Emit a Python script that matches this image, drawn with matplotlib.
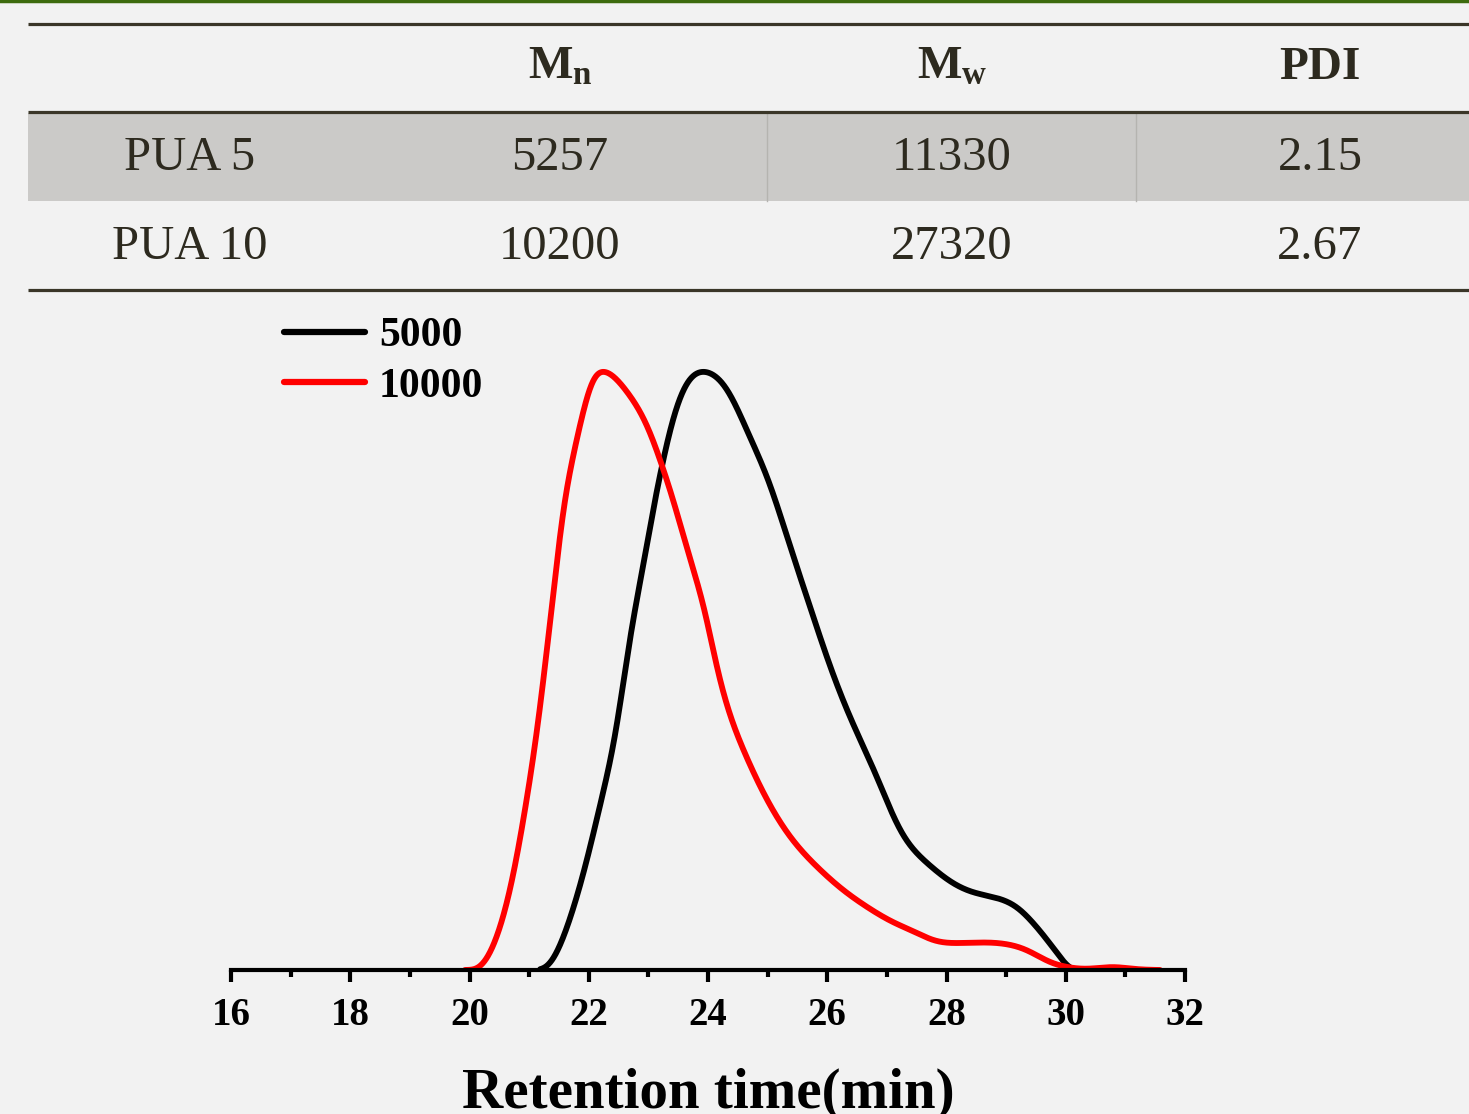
import numpy as np
import matplotlib
matplotlib.use("Agg")
import matplotlib.pyplot as plt
from matplotlib.patches import Rectangle

plt.rcParams['font.family'] = ['Liberation Serif', 'DejaVu Serif']
plt.rcParams['mathtext.fontset'] = 'custom'
plt.rcParams['mathtext.rm'] = 'Liberation Serif'
plt.rcParams['mathtext.bf'] = 'Liberation Serif:bold'

# table data
col_heads = ['', r'$\mathbf{M_n}$', r'$\mathbf{M_w}$', 'PDI']
row_names = ['PUA 5', 'PUA 10']
mn = ['5257', '10200']
mw = ['11330', '27320']
pdi = ['2.15', '2.67']

# GPC traces (retention time, normalised signal)
t_5000 = [21.18, 21.30, 21.64, 21.97, 22.24, 22.47, 22.66, 22.91, 23.08, 23.25,
          23.41, 23.65, 23.95, 24.32, 24.70, 24.99, 25.38, 25.71, 26.01, 26.38,
          26.83, 27.22, 27.67, 28.11, 28.44, 28.95, 29.18, 29.45, 29.69, 29.90,
          30.04, 30.10]
s_5000 = [0.0, 0.005, 0.072, 0.184, 0.296, 0.406, 0.535, 0.674, 0.769, 0.853,
          0.920, 0.982, 1.0, 0.970, 0.891, 0.824, 0.707, 0.607, 0.518, 0.423,
          0.323, 0.234, 0.179, 0.145, 0.130, 0.117, 0.105, 0.079, 0.050, 0.022,
          0.005, 0.0]
t_10000 = [19.92, 20.18, 20.46, 20.73, 20.96, 21.13, 21.30, 21.47, 21.57, 21.69,
           21.85, 22.07, 22.24, 22.64, 22.98, 23.19, 23.41, 23.70, 23.98, 24.10,
           24.32, 24.59, 24.99, 25.38, 25.83, 26.26, 26.67, 27.10, 27.50, 27.77,
           28.23, 29.07, 29.35, 29.74, 30.02, 30.36, 30.79, 31.13, 31.58]
s_10000 = [0.0, 0.005, 0.055, 0.156, 0.284, 0.396, 0.535, 0.686, 0.769, 0.836,
           0.908, 0.987, 1.0, 0.965, 0.908, 0.853, 0.786, 0.686, 0.585, 0.527,
           0.44, 0.368, 0.284, 0.222, 0.172, 0.134, 0.105, 0.080, 0.062, 0.050,
           0.045, 0.042, 0.033, 0.013, 0.005, 0.002, 0.005, 0.002, 0.0]


def smooth_trace(x, y, step=0.005, sigma=0.08):
    # natural cubic spline through the read points, then a light gaussian blur
    x = np.asarray(x, float); y = np.asarray(y, float)
    m = len(x); h = np.diff(x)
    A = np.zeros((m, m)); b = np.zeros(m)
    A[0, 0] = A[-1, -1] = 1
    for i in range(1, m - 1):
        A[i, i-1] = h[i-1]; A[i, i] = 2*(h[i-1] + h[i]); A[i, i+1] = h[i]
        b[i] = 6*((y[i+1]-y[i])/h[i] - (y[i]-y[i-1])/h[i-1])
    M = np.linalg.solve(A, b)
    xs = np.arange(x[0] - 0.4, x[-1] + 0.4, step)
    i = np.clip(np.searchsorted(x, xs) - 1, 0, m - 2)
    a = x[i+1] - xs; c = xs - x[i]; hi = h[i]
    ys = (M[i]*a**3 + M[i+1]*c**3)/(6*hi) + (y[i]/hi - M[i]*hi/6)*a + (y[i+1]/hi - M[i+1]*hi/6)*c
    ys[(xs < x[0]) | (xs > x[-1])] = 0.0
    ys = np.clip(ys, 0, None)
    k = np.arange(-4*sigma, 4*sigma + step, step)
    g = np.exp(-0.5*(k/sigma)**2); g /= g.sum()
    ys = np.convolve(ys, g, mode='same')
    keep = (xs >= x[0]) & (xs <= x[-1])
    return xs[keep], ys[keep] / ys.max()


W, H = 1469, 1114
bg = '#f2f2f2'
ink = '#2d2a1f'
fig = plt.figure(figsize=(W/100, H/100), dpi=100, facecolor=bg)

# ---- table drawn in pixel coords ----
tab = fig.add_axes([0, 0, 1, 1])
tab.set_xlim(0, W); tab.set_ylim(H, 0); tab.axis('off')
tab.axhline(1, color='#3d6b0e', lw=2.5)
tab.add_patch(Rectangle((28, 113), W - 28, 88, color='#cbcac8', lw=0))
for xv in [767, 1136]:
    tab.plot([xv, xv], [113, 201], color='#b5b4b0', lw=1)
for yv in [24, 112, 290]:
    tab.plot([28, W], [yv, yv], color='#3a3628', lw=2.3, solid_capstyle='butt')
col_x = [190, 560, 952, 1320]
for cx, h in zip(col_x, col_heads):
    tab.text(cx, 68, h, ha='center', va='center', fontsize=34, fontweight='bold', color=ink)
for r, yc in enumerate([158, 247]):
    vals = [row_names[r], mn[r], mw[r], pdi[r]]
    for cx, v in zip(col_x, vals):
        tab.text(cx, yc, v, ha='center', va='center', fontsize=35, color=ink)

# ---- GPC plot ----
ax = fig.add_axes([231/W, 1 - 970/H, (1185 - 231)/W, 640/H])
ax.set_facecolor('none')
xa, ya = smooth_trace(t_5000, s_5000)
xb, yb = smooth_trace(t_10000, s_10000)
ax.plot(xa, ya, color='black', lw=4.2, label='5000', solid_capstyle='round')
ax.plot(xb, yb, color='red', lw=4.2, label='10000', solid_capstyle='round')
ax.set_xlim(16, 32)
ax.set_ylim(0, 1.07)
for s in ['top', 'right', 'left']:
    ax.spines[s].set_visible(False)
ax.spines['bottom'].set_linewidth(3)
ax.set_yticks([])
ax.set_xticks(np.arange(16, 33, 2))
ax.set_xticks(np.arange(17, 32, 2), minor=True)
ax.tick_params(axis='x', which='major', direction='out', length=8.5, width=3, pad=11)
ax.tick_params(axis='x', which='minor', direction='out', length=5, width=3)
for lab in ax.get_xticklabels():
    lab.set_fontsize(28); lab.set_fontweight('bold')
ax.set_xlabel('Retention time(min)', fontsize=41, fontweight='bold', labelpad=24)

leg = ax.legend(loc='upper left', bbox_to_anchor=(284/W, 1 - 317/H),
                bbox_transform=fig.transFigure, frameon=False,
                prop={'size': 30, 'weight': 'bold'}, handlelength=1.95,
                handletextpad=0.33, labelspacing=0.3, borderpad=0, borderaxespad=0)
for l in leg.get_lines():
    l.set_linewidth(4.5)

fig.savefig('out.png', dpi=100, facecolor=bg)
